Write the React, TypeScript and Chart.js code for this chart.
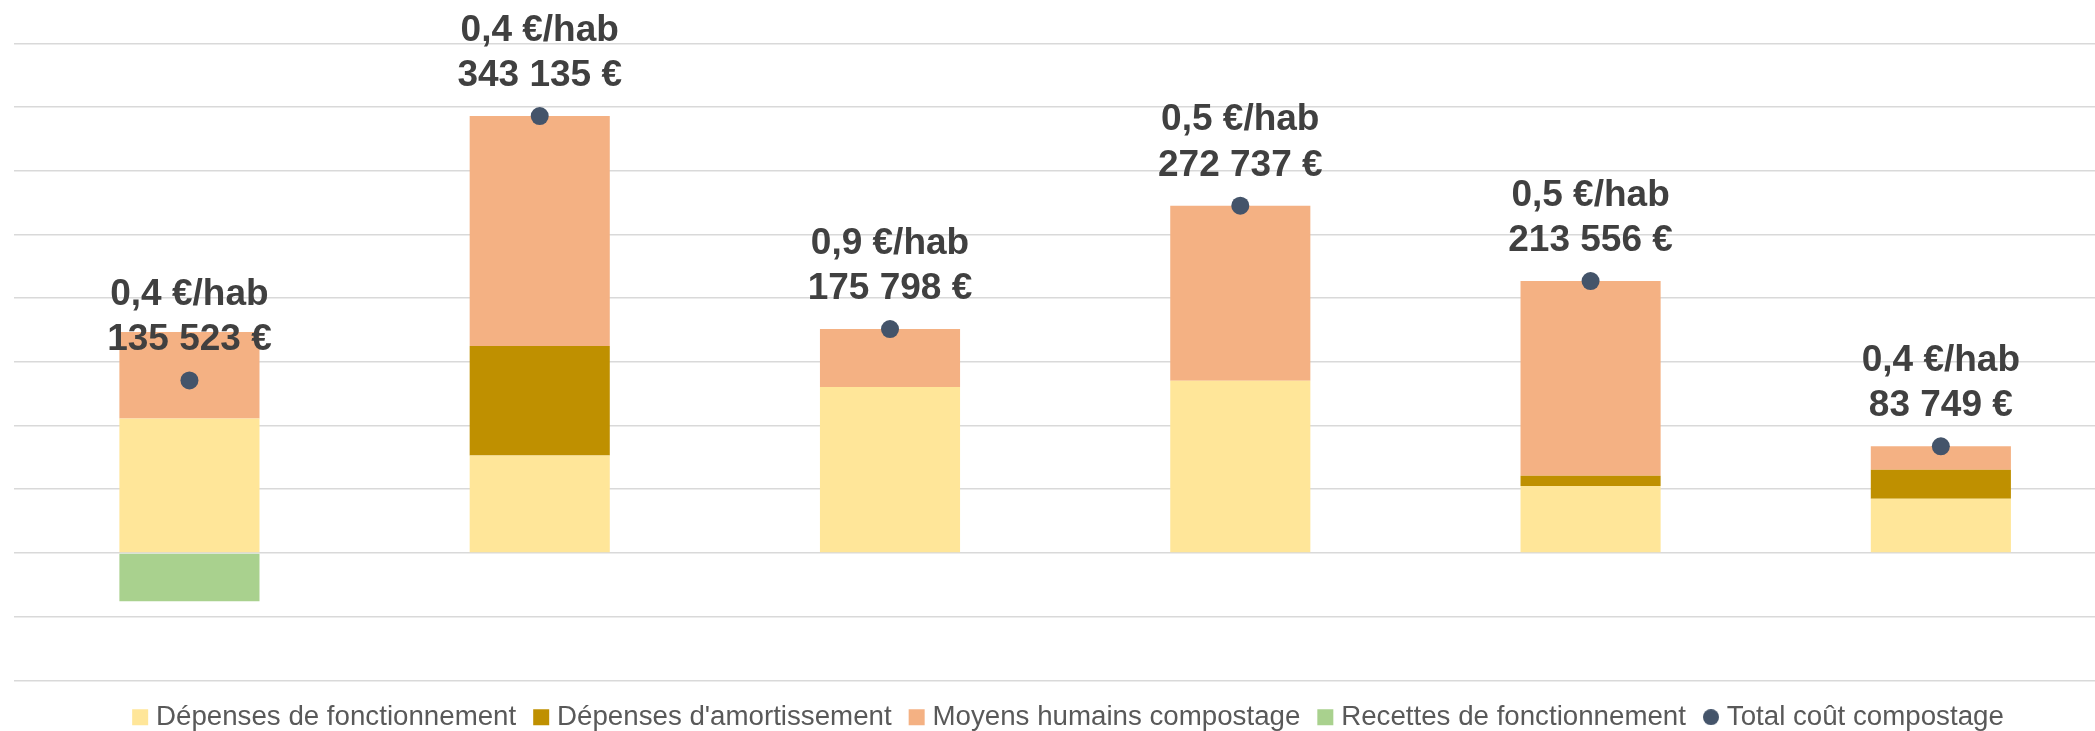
import React, { useEffect, useRef } from "react";
import { Chart, registerables } from "chart.js";

Chart.register(...registerables);

const categories = ["1", "2", "3", "4", "5", "6"];
const depensesFonctionnement = [105500, 76600, 130400, 135200, 52500, 42500];
const depensesAmortissement = [0, 85900, 0, 0, 8100, 22800];
const moyensHumains = [68000, 180635, 45398, 137537, 152956, 18449];
const recettesFonctionnement = [-37977, 0, 0, 0, 0, 0];
const totalCout = [135523, 343135, 175798, 272737, 213556, 83749];
const coutParHabitant = [0.4, 0.4, 0.9, 0.5, 0.5, 0.4];

const Y_MIN = -100000;
const Y_MAX = 400000;
const Y_STEP = 50000;

const FONT = "'Liberation Sans', Arial, Helvetica, sans-serif";

function formatEuro(v: number): string {
  const s = Math.round(v).toString();
  return s.replace(/\B(?=(\d{3})+(?!\d))/g, " ") + " €";
}
function formatHab(v: number): string {
  return v.toFixed(1).replace(".", ",") + " €/hab";
}

const totalLabelsPlugin = {
  id: "totalLabels",
  afterDatasetsDraw(chart: any) {
    const idx = chart.data.datasets.findIndex((d: any) => d.id === "total");
    if (idx < 0) return;
    const meta = chart.getDatasetMeta(idx);
    const ctx = chart.ctx;
    ctx.save();
    ctx.font = `bold 37px ${FONT}`;
    ctx.fillStyle = "#404040";
    ctx.textAlign = "center";
    ctx.textBaseline = "alphabetic";
    meta.data.forEach((pt: any, i: number) => {
      const x = pt.x;
      const y = pt.y;
      ctx.fillText(formatHab(coutParHabitant[i]), x, y - 30 - 45.5);
      ctx.fillText(formatEuro(totalCout[i]), x, y - 30);
    });
    ctx.restore();
  },
};

export default function App() {
  const ref = useRef<HTMLCanvasElement | null>(null);

  useEffect(() => {
    if (!ref.current) return;
    const dot = document.createElement("canvas");
    dot.width = 16;
    dot.height = 16;
    const dctx = dot.getContext("2d")!;
    dctx.fillStyle = "#44546A";
    dctx.beginPath();
    dctx.arc(8, 8, 8, 0, Math.PI * 2);
    dctx.fill();

    const chart = new Chart(ref.current, {
      type: "bar",
      data: {
        labels: categories,
        datasets: [
          {
            label: "Dépenses de fonctionnement",
            data: depensesFonctionnement,
            backgroundColor: "#FFE699",
            stack: "couts",
            borderWidth: 0,
          },
          {
            label: "Dépenses d'amortissement",
            data: depensesAmortissement,
            backgroundColor: "#BF9000",
            stack: "couts",
            borderWidth: 0,
          },
          {
            label: "Moyens humains compostage",
            data: moyensHumains,
            backgroundColor: "#F4B183",
            stack: "couts",
            borderWidth: 0,
          },
          {
            label: "Recettes de fonctionnement",
            data: recettesFonctionnement,
            backgroundColor: "#A9D18E",
            stack: "couts",
            borderWidth: 0,
          },
          {
            id: "total",
            type: "line",
            label: "Total coût compostage",
            data: totalCout,
            stack: "total",
            order: -1,
            showLine: false,
            pointRadius: 9,
            pointHoverRadius: 9,
            pointBackgroundColor: "#44546A",
            pointBorderWidth: 0,
            backgroundColor: "#44546A",
            borderColor: "#44546A",
          } as any,
        ],
      },
      options: {
        responsive: false,
        animation: false,
        events: [],
        layout: { padding: { left: 14.3, right: 14.3, top: 43.6, bottom: 0 } },
        datasets: {
          bar: { barPercentage: 0.4, categoryPercentage: 1.0 },
        },
        scales: {
          x: {
            display: false,
            stacked: true,
          },
          y: {
            display: true,
            stacked: true,
            min: Y_MIN,
            max: Y_MAX,
            ticks: { display: false, stepSize: Y_STEP },
            border: { display: false },
            grid: { color: "#D9D9D9", lineWidth: 1.6, drawTicks: false },
          },
          yPad: {
            type: "linear",
            position: "right",
            display: true,
            min: 0,
            max: 1,
            ticks: { display: false },
            border: { display: false },
            grid: { display: false, drawTicks: false },
            afterFit: (s: any) => {
              s.width = 11.7;
            },
          },
        },
        plugins: {
          title: { display: false },
          tooltip: { enabled: false },
          legend: {
            display: true,
            position: "bottom",
            labels: {
              usePointStyle: true,
              boxWidth: 4,
              boxHeight: 16,
              padding: 23,
              color: "#595959",
              font: { family: FONT, size: 27.7 },
              sort: (a: any, b: any) => a.datasetIndex - b.datasetIndex,
              generateLabels: (c: any) => {
                const items = (Chart.defaults.plugins.legend.labels as any).generateLabels(c);
                return items.map((it: any) => {
                  const ds = c.data.datasets[it.datasetIndex];
                  it.lineWidth = 0;
                  it.strokeStyle = "rgba(0,0,0,0)";
                  if (ds.id === "total") {
                    it.pointStyle = dot;
                  } else {
                    it.pointStyle = "rect";
                    it.fillStyle = ds.backgroundColor;
                  }
                  return it;
                });
              },
            },
          },
        },
      } as any,
      plugins: [totalLabelsPlugin],
    });
    return () => chart.destroy();
  }, []);

  return (
    <div
      style={{
        position: "fixed",
        left: 0,
        top: 0,
        width: 2095,
        height: 731,
        overflow: "hidden",
        background: "#ffffff",
      }}
    >
      <canvas
        ref={ref}
        width={2142}
        height={741}
        style={{ display: "block", width: 2142, height: 741 }}
      />
    </div>
  );
}
